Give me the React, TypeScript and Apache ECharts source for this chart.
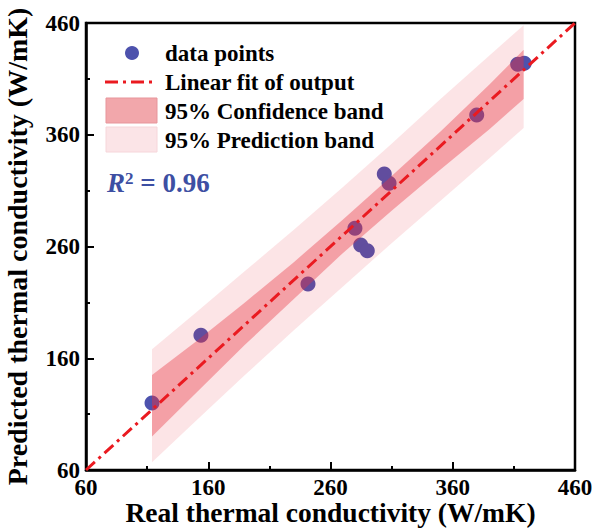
import React, { useEffect, useRef } from "react";
import * as echarts from "echarts";

// Data points (real vs predicted thermal conductivity, W/mK)
const realValues = [114, 154, 241.6, 280, 284.7, 290.1, 304, 307.9, 379.6, 413.1, 418.5];
const predictedValues = [120, 180.5, 226.4, 276.3, 261.3, 256.3, 324.9, 316.5, 377.7, 423, 423.9];

// Linear fit line end points
const fitX = [60, 460];
const fitY = [60, 460];

// Bands read at several x positions
const bandX = [114, 150, 190, 230, 270, 310, 350, 390, 418];
const confLower = [90, 129, 172, 213, 254, 292, 329, 365, 392];
const confUpper = [145, 175, 210, 246, 284, 323, 363, 405, 436];
const predLower = [67, 104, 145, 185, 224, 263, 301, 339, 366];
const predUpper = [168, 201, 238, 275, 313, 352, 392, 431, 458];

const axisTicks = [60, 160, 260, 360, 460];

const FONT = "'Liberation Serif', 'Times New Roman', serif";

function bandSeries(name: string, lower: number[], upper: number[], fill: string, z: number) {
  return {
    name,
    type: "custom",
    z,
    data: [[bandX[0], lower[0]]],
    renderItem: (_params: any, api: any) => {
      const pts: number[][] = [];
      for (let i = 0; i < bandX.length; i++) pts.push(api.coord([bandX[i], upper[i]]));
      for (let i = bandX.length - 1; i >= 0; i--) pts.push(api.coord([bandX[i], lower[i]]));
      return { type: "polygon", shape: { points: pts }, style: { fill } };
    },
  };
}

export default function App() {
  const ref = useRef<HTMLDivElement>(null);
  useEffect(() => {
    if (!ref.current) return;
    const chart = echarts.init(ref.current, null, { renderer: "svg" });
    const axisCommon = {
      type: "value",
      min: axisTicks[0],
      max: axisTicks[axisTicks.length - 1],
      interval: 100,
      nameLocation: "middle",
      nameMoveOverlap: false,
      axisLine: { show: true, onZero: false, lineStyle: { color: "#000", width: 2.5 } },
      axisTick: { show: true, inside: true, length: 8, lineStyle: { color: "#000", width: 2 } },
      minorTick: { show: true, splitNumber: 2, length: 4, lineStyle: { color: "#000", width: 2 } },
      splitLine: { show: false },
      axisLabel: { fontFamily: FONT, fontWeight: "bold", fontSize: 23, color: "#000", margin: 6 },
    };
    chart.setOption({
      animation: false,
      grid: {
        left: 86, right: 20, top: 23, bottom: 59,
        show: true, borderColor: "#000", borderWidth: 2.5,
        containLabel: false, outerBoundsMode: "none",
      },
      xAxis: {
        ...axisCommon,
        name: "Real thermal conductivity (W/mK)",
        nameGap: 28,
        nameTextStyle: { fontFamily: FONT, fontWeight: "bold", fontSize: 27.5, color: "#000", lineHeight: 28 },
      },
      yAxis: {
        ...axisCommon,
        name: "Predicted thermal conductivity (W/mK)",
        nameGap: 55,
        nameTextStyle: { fontFamily: FONT, fontWeight: "bold", fontSize: 28, color: "#000", lineHeight: 28 },
      },
      series: [
        {
          name: "data points",
          type: "scatter",
          z: 1,
          symbolSize: 15,
          itemStyle: { color: "#4d52ad", opacity: 1 },
          data: realValues.map((x, i) => [x, predictedValues[i]]),
        },
        bandSeries("95% Prediction band", predLower, predUpper, "rgba(232,50,62,0.13)", 2),
        bandSeries("95% Confidence band", confLower, confUpper, "rgba(232,50,62,0.38)", 3),
        {
          name: "Linear fit of output",
          type: "line",
          z: 4,
          symbol: "none",
          lineStyle: { color: "#ea1a20", width: 3, type: [12, 5, 3, 5] },
          data: fitX.map((x, i) => [x, fitY[i]]),
        },
      ],
      graphic: [
        { type: "circle", shape: { cx: 132, cy: 53, r: 7 }, style: { fill: "#4d52ad" } },
        { type: "text", x: 165, y: 53, style: { text: "data points", font: `bold 23px ${FONT}`, fill: "#000", verticalAlign: "middle" } },
        { type: "line", shape: { x1: 105, y1: 82, x2: 154, y2: 82 }, style: { stroke: "#ea1a20", lineWidth: 3, lineDash: [13, 5, 3, 5] } },
        { type: "text", x: 165, y: 82, style: { text: "Linear fit of output", font: `bold 23px ${FONT}`, fill: "#000", verticalAlign: "middle" } },
        { type: "rect", shape: { x: 106, y: 98, width: 51, height: 25 }, style: { fill: "#f2a7ab", stroke: "#e7959b", lineWidth: 1 } },
        { type: "text", x: 165, y: 111, style: { text: "95% Confidence band", font: `bold 23px ${FONT}`, fill: "#000", verticalAlign: "middle" } },
        { type: "rect", shape: { x: 106, y: 127, width: 51, height: 25 }, style: { fill: "#fbe4e7", stroke: "#f6d6da", lineWidth: 1 } },
        { type: "text", x: 165, y: 140, style: { text: "95% Prediction band", font: `bold 23px ${FONT}`, fill: "#000", verticalAlign: "middle" } },
        {
          type: "text",
          x: 107,
          y: 183,
          style: {
            text: "{i|R}{s|2}{n| = 0.96}",
            verticalAlign: "middle",
            rich: {
              i: { font: `italic bold 27px ${FONT}`, fill: "#3d4fa3", verticalAlign: "bottom" },
              s: { font: `bold 17px ${FONT}`, fill: "#3d4fa3", verticalAlign: "top" },
              n: { font: `bold 27px ${FONT}`, fill: "#3d4fa3", verticalAlign: "bottom" },
            },
          },
        },
      ],
    });
    return () => chart.dispose();
  }, []);
  return <div ref={ref} style={{ position: "absolute", left: 0, top: 0, width: 595, height: 529, background: "#fff" }} />;
}
